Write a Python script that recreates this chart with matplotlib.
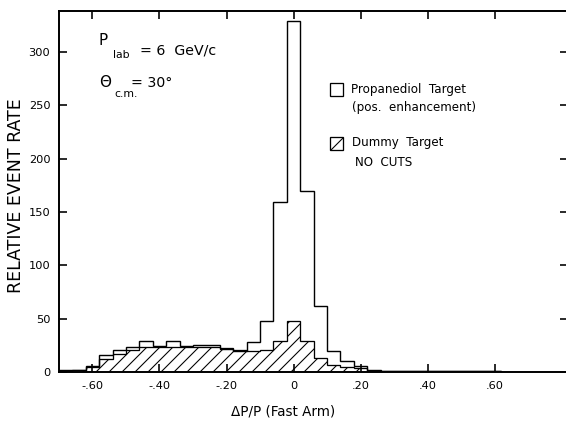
import numpy as np
import matplotlib
matplotlib.use('Agg')
import matplotlib.pyplot as plt
from matplotlib.patches import Rectangle

# ---- data ----
bin_start = -0.70
bin_width = 0.04
propanediol = [2, 2.5, 6, 16, 21, 24, 29, 25, 29, 25, 26, 26, 22, 20, 28, 48,
               159, 329, 170, 62, 20, 11, 6, 2.5, 1.5, 1.5, 1.5, 1.5, 1.5, 1.5,
               1.5, 1.5, 1.5, 0, 0, 0, 0, 0]
dummy = [1, 2, 5, 12, 17, 21, 24, 24, 24, 24, 24, 24, 23, 21, 20, 21,
         29, 48, 29, 13, 7, 4.5, 4, 1, 1, 1, 1, 1, 1, 1,
         1, 1, 1, 0, 0, 0, 0, 0]
x_ticks = [-0.6, -0.4, -0.2, 0.0, 0.2, 0.4, 0.6]
x_tick_labels = ['-.60', '-.40', '-.20', '0', '.20', '.40', '.60']
y_ticks = [0, 50, 100, 150, 200, 250, 300]

W, H = 566, 421
DPI = 78
plt.rcParams['hatch.linewidth'] = 1.0
plt.rcParams['font.family'] = ['DejaVu Sans']


def fx(x):
    return x / W


def fy(y):
    return 1 - y / H


fig = plt.figure(figsize=(W / DPI, H / DPI), dpi=DPI)
fig.patch.set_facecolor('white')
ax = fig.add_axes([fx(59), fy(372.3), (568.2 - 59) / W, (372.3 - 11) / H])

edges = bin_start + bin_width * np.arange(len(propanediol) + 1)
ax.stairs(dummy, edges, fill=True, facecolor='none', edgecolor='black',
          hatch='//', linewidth=1.2)
ax.stairs(propanediol, edges, color='black', linewidth=1.3)

ax.set_xlim(-0.70, 0.82)
ax.set_ylim(0, 338)
ax.set_xticks(x_ticks)
ax.set_xticklabels(x_tick_labels)
ax.set_yticks(y_ticks)
ax.tick_params(axis='both', direction='in', length=7, width=1.5,
               labelsize=10.5, pad=8, top=True, right=True)
for s in ax.spines.values():
    s.set_linewidth(1.8)

ax.set_ylabel('RELATIVE EVENT RATE', fontsize=16)
ax.yaxis.set_label_coords(-0.066, 0.49)
ax.set_xlabel('ΔP/P (Fast Arm)', fontsize=12.5)
ax.xaxis.set_label_coords(0.44, -0.09)

# annotations
fig.text(fx(99), fy(45), 'P', fontsize=14)
fig.text(fx(113), fy(58), 'lab', fontsize=10)
fig.text(fx(140), fy(55), '= 6  GeV/c', fontsize=13)
fig.text(fx(99), fy(87), 'Θ', fontsize=14)
fig.text(fx(114), fy(97), 'c.m.', fontsize=10)
fig.text(fx(131), fy(87), '= 30°', fontsize=13)

# legend
fig.patches.append(Rectangle((fx(330), fy(96)), 13 / W, 13 / H,
                             transform=fig.transFigure, facecolor='none',
                             edgecolor='black', linewidth=1.2))
fig.patches.append(Rectangle((fx(330), fy(150)), 13 / W, 13 / H,
                             transform=fig.transFigure, facecolor='none',
                             edgecolor='black', linewidth=1.2, hatch='//'))
fig.text(fx(351), fy(93.5), 'Propanediol  Target', fontsize=11)
fig.text(fx(352), fy(111.5), '(pos.  enhancement)', fontsize=11)
fig.text(fx(352), fy(146), 'Dummy  Target', fontsize=11)
fig.text(fx(355), fy(166), 'NO  CUTS', fontsize=11)

fig.savefig('out.png', dpi=DPI, facecolor='white')
